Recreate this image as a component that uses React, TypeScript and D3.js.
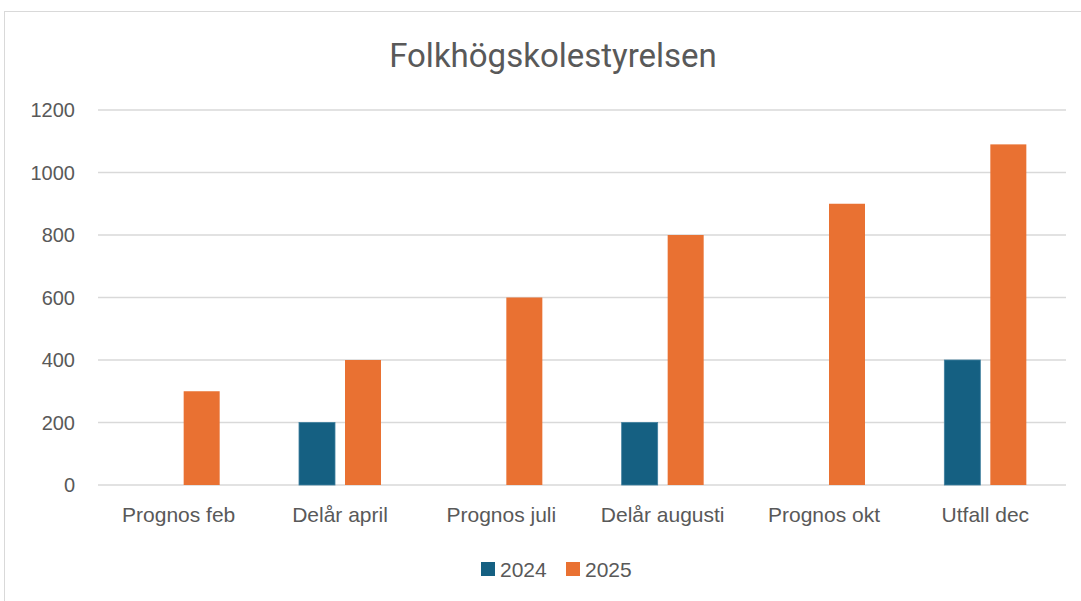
import * as d3 from 'd3';

const categories = ['Prognos feb', 'Delår april', 'Prognos juli', 'Delår augusti', 'Prognos okt', 'Utfall dec'];
const series2024: (number | null)[] = [null, 200, null, 200, null, 400];
const series2025: (number | null)[] = [300, 400, 600, 800, 900, 1090];
const seriesNames = ['2024', '2025'];
const seriesColors = ['#156082', '#E97132'];
const yTicks = [0, 200, 400, 600, 800, 1000, 1200];

export default function App() {
  const width = 1081;
  const height = 601;
  const plot = { left: 98, right: 1066, top: 110, bottom: 485 };

  const x = d3.scaleBand<string>().domain(categories).range([plot.left, plot.right]).padding(0);
  const y = d3.scaleLinear().domain([0, 1200]).range([plot.bottom, plot.top]);
  const inner = d3.scaleBand<string>().domain(seriesNames).range([0, 82]).paddingInner(10 / 46);

  const all = [series2024, series2025];
  const textColor = '#595959';
  const font = "'Liberation Sans', Arial, sans-serif";

  return (
    <svg width={width} height={height} style={{ position: 'absolute', left: 0, top: 0 }}>
      <rect x={0} y={0} width={width} height={height} fill="#fff" />
      <rect x={4.5} y={11.5} width={1090} height={600} fill="#fff" stroke="#D9D9D9" />
      <text
        x={553}
        y={67}
        textAnchor="middle"
        fontFamily="'Roboto', sans-serif"
        fontSize={33}
        fill={textColor}
      >
        Folkhögskolestyrelsen
      </text>
      {yTicks.map((t) => (
        <g key={t}>
          <line x1={plot.left} x2={plot.right} y1={y(t)} y2={y(t)} stroke="#D9D9D9" strokeWidth={1.5} />
          <text x={75} y={y(t)} dy="0.35em" textAnchor="end" fontFamily={font} fontSize={20} fill={textColor}>
            {t}
          </text>
        </g>
      ))}
      {categories.map((c, i) => {
        const cx = (x(c) ?? 0) + x.bandwidth() / 2;
        return (
          <g key={c}>
            {all.map((s, j) => {
              const v = s[i];
              if (v === null) return null;
              const bx = cx - 41 + (inner(seriesNames[j]) ?? 0);
              return (
                <rect
                  key={j}
                  x={bx}
                  y={y(v)}
                  width={inner.bandwidth()}
                  height={y(0) - y(v)}
                  fill={seriesColors[j]}
                  stroke={j === 0 ? '#3F7F9E' : 'none'}
                  strokeWidth={0.8}
                />
              );
            })}
            <text x={cx} y={522} textAnchor="middle" fontFamily={font} fontSize={21} fill={textColor}>
              {c}
            </text>
          </g>
        );
      })}
      {seriesNames.map((n, j) => {
        const lx = j === 0 ? 481 : 566;
        return (
          <g key={n}>
            <rect x={lx} y={562} width={14} height={14} fill={seriesColors[j]} />
            <text x={lx + 19} y={577} fontFamily={font} fontSize={21} fill={textColor}>
              {n}
            </text>
          </g>
        );
      })}
    </svg>
  );
}
